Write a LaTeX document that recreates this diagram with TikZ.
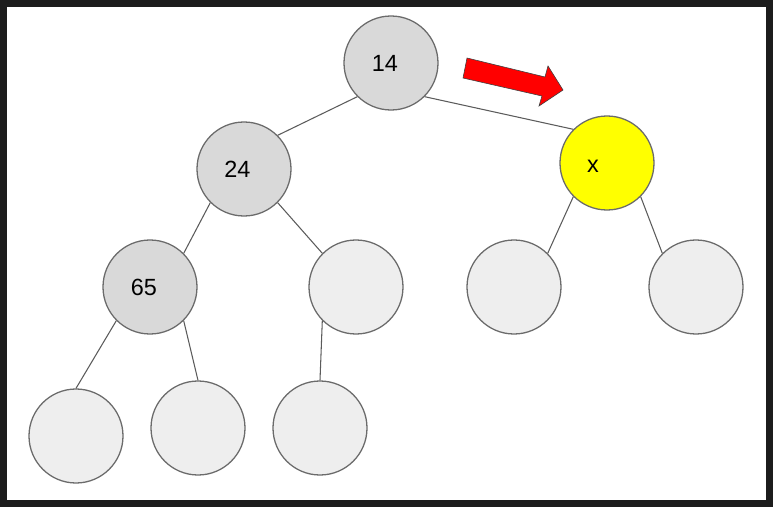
\documentclass[tikz,border=0pt]{standalone}
\usepackage{fontspec}
\setmainfont{Liberation Sans}
\usepackage{tikz}
\usetikzlibrary{arrows.meta, positioning}

\definecolor{frame}{HTML}{1C1C1C}
\definecolor{ring}{HTML}{6B6B6B}
\definecolor{heapgray}{HTML}{D9D9D9}
\definecolor{emptygray}{HTML}{EEEEEE}
\definecolor{swapyellow}{HTML}{FFFF00}

\begin{document}
\begin{tikzpicture}[
  x=0.03cm, y=-0.03cm,
  every label/.style={font=\fontsize{20}{24}\selectfont},
  heap/.style={circle, draw=ring, line width=1.1pt, minimum size=2.82cm, inner sep=0pt},
  full/.style={heap, fill=heapgray},
  hole/.style={heap, fill=emptygray},
  moved/.style={heap, fill=swapyellow},
  link/.style={draw=ring!85!black, line width=0.9pt}
]

% Frame
\fill[frame] (0,0) rectangle (773,507);
\fill[white] (7,7) rectangle (766,500);
\useasboundingbox (0,0) rectangle (773,507);

% Nodes
\node[full, label={[xshift=-0.18cm]center:14}] (n14) at (391,63) {};
\node[full, label={[xshift=-0.2cm]center:24}] (n24) at (244,169) {};
\node[moved, label={[xshift=-0.42cm, yshift=-0.1cm]center:x}] (nx) at (607,163) {};
\node[full, label={[xshift=-0.18cm]center:65}] (n65) at (150,287) {};
\node[hole] (e1) at (356,287) {};
\node[hole] (e2) at (514,287) {};
\node[hole] (e3) at (696,287) {};
\node[hole] (e4) at (76,436) {};
\node[hole] (e5) at (198,428) {};
\node[hole] (e6) at (320,428) {};

% Pointers
\draw[link] (n14.-135) -- (n24.45);
\draw[link] (n14.-45) -- (nx.135);
\draw[link] (n24.-135) -- (n65.45);
\draw[link] (n24.-45) -- (e1.135);
\draw[link] (nx.-135) -- (e2.45);
\draw[link] (nx.-45) -- (e3.135);
\draw[link] (n65.-135) -- (e4.north);
\draw[link] (n65.-45) -- (e5.north);
\draw[link] (e1.-135) -- (e6.north);

% Swap arrow
\draw[fill=red, draw=ring!60!black, line width=0.5pt, line join=miter]
  (467,58) -- (545,77) -- (548,66) -- (563,90) -- (539,106) -- (542,96) -- (463,78) -- cycle;

\end{tikzpicture}
\end{document}
